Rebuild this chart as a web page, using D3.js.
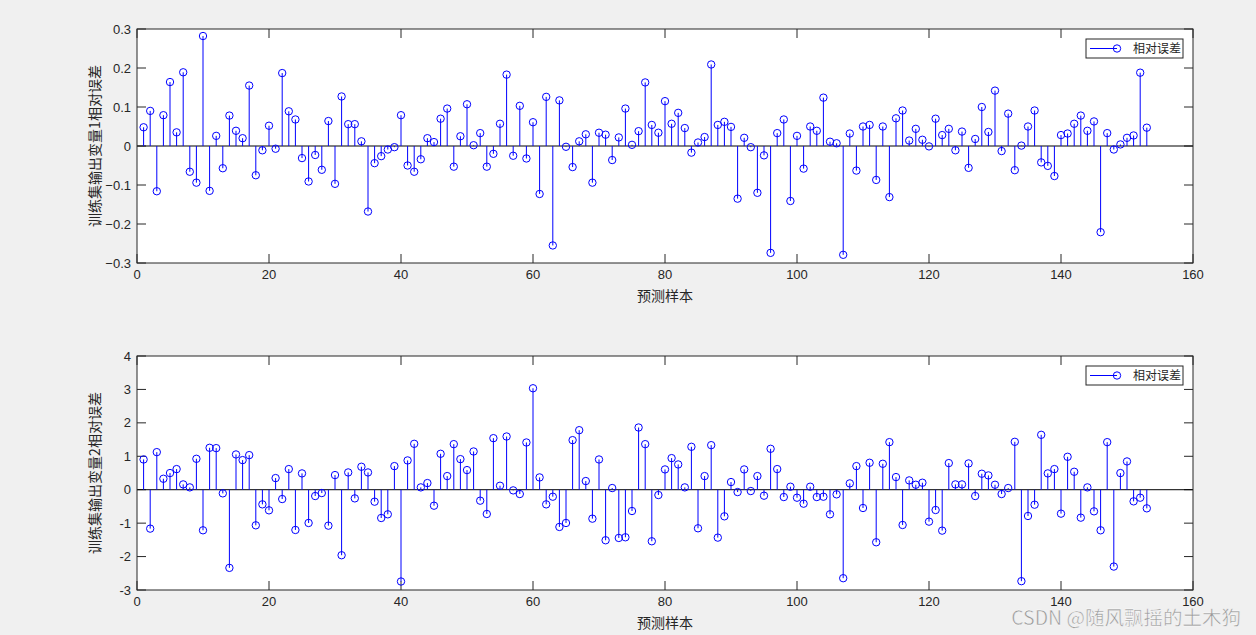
<!DOCTYPE html>
<html><head><meta charset="utf-8">
<script src="https://cdn.jsdelivr.net/npm/d3@7"></script>
<style>
html,body{margin:0;padding:0;background:#f0f0f0;}
svg{display:block;}
text{font-family:"Liberation Sans",Arial,sans-serif;}
</style></head>
<body>
<svg id="chart" width="1256" height="635"></svg>
<script>
const err1 = [0.048,0.090,-0.116,0.079,0.164,0.035,0.189,-0.066,-0.094,0.282,
-0.115,0.026,-0.057,0.078,0.039,0.020,0.155,-0.075,-0.011,0.052,
-0.007,0.187,0.089,0.068,-0.031,-0.091,-0.023,-0.061,0.064,-0.097,
0.127,0.056,0.056,0.012,-0.168,-0.044,-0.026,-0.009,-0.003,0.079,
-0.050,-0.066,-0.034,0.020,0.010,0.070,0.096,-0.053,0.025,0.107,
0.002,0.033,-0.053,-0.020,0.057,0.183,-0.025,0.103,-0.032,0.061,
-0.123,0.126,-0.255,0.117,-0.002,-0.054,0.012,0.030,-0.094,0.034,
0.029,-0.036,0.022,0.096,0.003,0.038,0.163,0.054,0.034,0.115,
0.057,0.085,0.046,-0.017,0.009,0.023,0.209,0.054,0.062,0.049,
-0.135,0.021,-0.003,-0.120,-0.024,-0.274,0.033,0.068,-0.141,0.026,
-0.058,0.050,0.039,0.124,0.011,0.007,-0.279,0.032,-0.063,0.050,
0.054,-0.087,0.050,-0.131,0.071,0.091,0.014,0.044,0.016,-0.001,
0.070,0.028,0.044,-0.011,0.037,-0.056,0.018,0.100,0.036,0.142,
-0.013,0.083,-0.062,0.001,0.050,0.091,-0.042,-0.051,-0.077,0.028,
0.032,0.057,0.078,0.039,0.063,-0.221,0.033,-0.009,0.004,0.021,
0.027,0.188,0.047];
const err2 = [0.905,-1.164,1.124,0.328,0.498,0.617,0.159,0.070,0.925,-1.214,
1.254,1.244,-0.109,-2.338,1.055,0.886,1.035,-1.065,-0.438,-0.617,
0.348,-0.279,0.617,-1.204,0.488,-0.995,-0.189,-0.100,-1.075,0.438,
-1.960,0.517,-0.259,0.687,0.517,-0.358,-0.846,-0.736,0.706,-2.746,
0.876,1.373,0.070,0.199,-0.478,1.075,0.408,1.363,0.915,0.587,
1.144,-0.328,-0.726,1.542,0.119,1.592,-0.020,-0.129,1.413,3.035,
0.368,-0.438,-0.209,-1.114,-0.995,1.483,1.781,0.259,-0.866,0.905,
-1.512,0.050,-1.443,-1.423,-0.637,1.861,1.363,-1.542,-0.159,0.607,
0.945,0.756,0.070,1.284,-1.154,0.408,1.333,-1.433,-0.796,0.229,
-0.070,0.607,-0.040,0.408,-0.179,1.224,0.617,-0.219,0.090,-0.239,
-0.418,0.090,-0.219,-0.209,-0.736,-0.139,-2.647,0.189,0.706,-0.547,
0.806,-1.572,0.776,1.423,0.378,-1.055,0.279,0.149,0.209,-0.955,
-0.607,-1.224,0.796,0.159,0.159,0.786,-0.189,0.478,0.428,0.149,
-0.129,0.050,1.433,-2.736,-0.786,-0.448,1.642,0.488,0.617,-0.716,
0.985,0.537,-0.836,0.070,-0.647,-1.214,1.423,-2.299,0.498,0.846,
-0.348,-0.239,-0.557];
const xTicks = [0,20,40,60,80,100,120,140,160];
const yTicks1 = [-0.3,-0.2,-0.1,0,0.1,0.2,0.3];
const yTicks2 = [-3,-2,-1,0,1,2,3,4];
const yLabel1 = "训练集输出变量1相对误差";
const yLabel2 = "训练集输出变量2相对误差";
const xLabel = "预测样本";
const legendLabel = "相对误差";
const watermark = "CSDN @随风飘摇的土木狗";

const svg = d3.select("#chart");
const axColor = "#262626";
const cjk = '"Noto Sans CJK SC","Noto Sans CJK JP",sans-serif';

function panel(data, yDomain, yTicks, yLabel, top, bottom, fmt) {
  const L = 137, R = 1193;
  const x = d3.scaleLinear().domain([0,160]).range([L,R]);
  const y = d3.scaleLinear().domain(yDomain).range([bottom, top]);
  const g = svg.append("g");
  g.append("rect").attr("x",L).attr("y",top).attr("width",R-L).attr("height",bottom-top).attr("fill","#fff");
  const tl = 9;
  xTicks.forEach(t => {
    g.append("line").attr("x1",x(t)).attr("x2",x(t)).attr("y1",bottom).attr("y2",bottom-tl).attr("stroke",axColor);
    g.append("line").attr("x1",x(t)).attr("x2",x(t)).attr("y1",top).attr("y2",top+tl).attr("stroke",axColor);
    g.append("text").attr("x",x(t)).attr("y",bottom+16).attr("text-anchor","middle")
      .attr("font-size",13).attr("fill",axColor).text(t);
  });
  yTicks.forEach(t => {
    g.append("line").attr("x1",L).attr("x2",L+tl).attr("y1",y(t)).attr("y2",y(t)).attr("stroke",axColor);
    g.append("line").attr("x1",R).attr("x2",R-tl).attr("y1",y(t)).attr("y2",y(t)).attr("stroke",axColor);
    g.append("text").attr("x",L-6).attr("y",y(t)+4.5).attr("text-anchor","end")
      .attr("font-size",13).attr("fill",axColor).text(fmt(t));
  });
  g.append("line").attr("x1",L).attr("x2",R).attr("y1",y(0)).attr("y2",y(0)).attr("stroke","#000").attr("stroke-width",1);
  g.selectAll("line.stem").data(data).enter().append("line").attr("class","stem")
    .attr("x1",(d,i)=>x(i+1)).attr("x2",(d,i)=>x(i+1))
    .attr("y1",y(0)).attr("y2",d=>y(d)).attr("stroke","#0000ff").attr("stroke-width",1);
  g.selectAll("circle.mk").data(data).enter().append("circle").attr("class","mk")
    .attr("cx",(d,i)=>x(i+1)).attr("cy",d=>y(d)).attr("r",3.7)
    .attr("fill","none").attr("stroke","#0000ff").attr("stroke-width",1);
  g.append("rect").attr("x",L).attr("y",top).attr("width",R-L).attr("height",bottom-top)
    .attr("fill","none").attr("stroke",axColor).attr("stroke-width",1);
  g.append("text").attr("transform",`translate(100,${(top+bottom)/2}) rotate(-90)`)
    .attr("text-anchor","middle").attr("font-size",14).attr("fill",axColor)
    .style("font-family",cjk).text(yLabel);
  g.append("text").attr("x",(L+R)/2).attr("y",bottom+38).attr("text-anchor","middle")
    .attr("font-size",14).attr("fill",axColor).style("font-family",cjk).text(xLabel);
  const lx = 1086, ly = top+10, lw = 97, lh = 19;
  g.append("rect").attr("x",lx).attr("y",ly).attr("width",lw).attr("height",lh)
    .attr("fill","#fff").attr("stroke",axColor).attr("stroke-width",1);
  g.append("line").attr("x1",lx+4).attr("x2",lx+31).attr("y1",ly+lh/2).attr("y2",ly+lh/2).attr("stroke","#0000ff");
  g.append("circle").attr("cx",lx+31).attr("cy",ly+lh/2).attr("r",3.7).attr("fill","none").attr("stroke","#0000ff");
  g.append("text").attr("x",lx+47).attr("y",ly+lh/2+4.5).attr("font-size",12).attr("fill",axColor)
    .style("font-family",cjk).text(legendLabel);
}
panel(err1,[-0.3,0.3],yTicks1,yLabel1,29,263,t=>t===0?"0":d3.format(".1f")(t));
panel(err2,[-3,4],yTicks2,yLabel2,356,590,t=>String(t));

svg.append("text").attr("x",1241).attr("y",625).attr("text-anchor","end")
  .attr("font-size",19.5).attr("fill","#9a9a9a").attr("stroke","#ffffff").attr("stroke-width",0.4)
  .style("font-family",cjk).text(watermark);
</script>
</body></html>
